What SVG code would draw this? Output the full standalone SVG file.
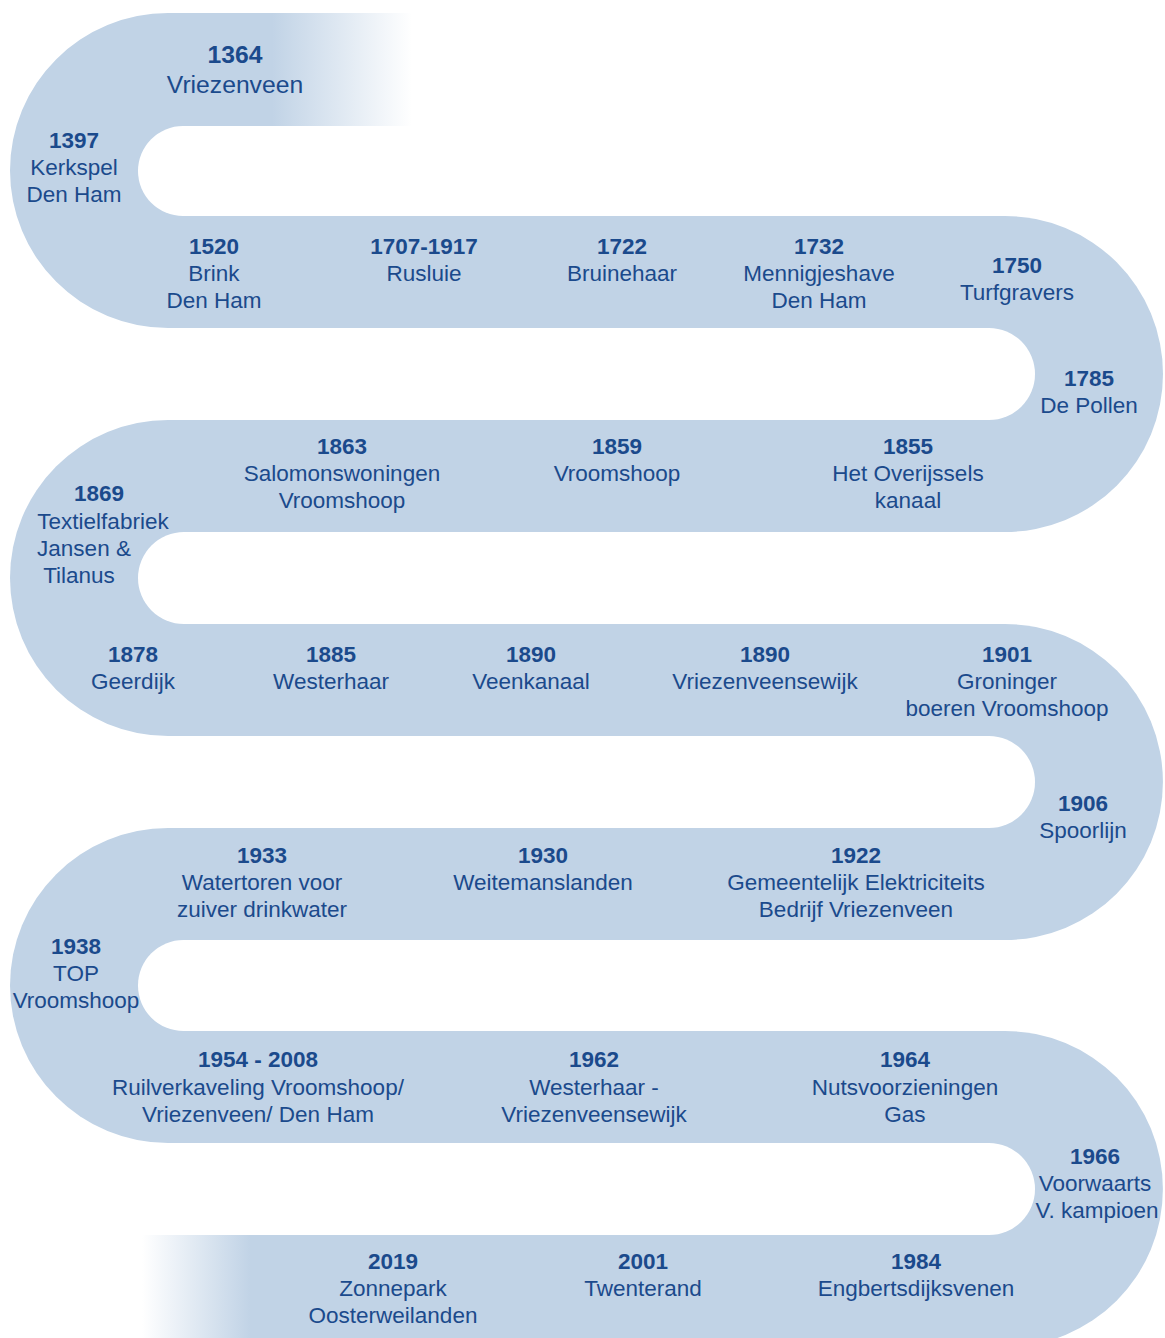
<svg xmlns="http://www.w3.org/2000/svg" width="1165" height="1338" viewBox="0 0 1165 1338">
<defs>
<style>
.b{fill:#c1d3e6}
.h{fill:#ffffff}
text{font-family:"Liberation Sans",Arial,sans-serif;font-size:22.5px;fill:#1b4a8c;text-anchor:middle}
.y{font-weight:bold}
.big{font-size:24.7px}
</style>
<linearGradient id="fadeTop" gradientUnits="userSpaceOnUse" x1="272" y1="0" x2="412" y2="0">
<stop offset="0" stop-color="#c1d3e6" stop-opacity="1"/>
<stop offset="1" stop-color="#c1d3e6" stop-opacity="0"/>
</linearGradient>
<linearGradient id="fadeBot" gradientUnits="userSpaceOnUse" x1="142" y1="0" x2="250" y2="0">
<stop offset="0" stop-color="#c1d3e6" stop-opacity="0"/>
<stop offset="1" stop-color="#c1d3e6" stop-opacity="1"/>
</linearGradient>
</defs>
<rect x="0" y="0" width="1165" height="1338" fill="#ffffff"/>
<g id="band">
<path class="b" d="M262,13 H168 A158,157.5 0 0 0 168,328 H262 Z"/>
<rect x="260" y="13" width="157" height="113" fill="url(#fadeTop)"/>
<rect class="b" x="260" y="216" width="670" height="112"/>
<path class="b" d="M920,216 H1005 A158,158 0 0 1 1005,532 H920 Z"/>
<rect class="b" x="260" y="420" width="670" height="112"/>
<path class="b" d="M262,420 H168 A158,158 0 0 0 168,736 H262 Z"/>
<rect class="b" x="260" y="624" width="670" height="112"/>
<path class="b" d="M920,624 H1005 A158,158 0 0 1 1005,940 H920 Z"/>
<rect class="b" x="260" y="828" width="670" height="112"/>
<path class="b" d="M262,828 H168 A158,157.5 0 0 0 168,1143 H262 Z"/>
<rect class="b" x="260" y="1031" width="670" height="112"/>
<path class="b" d="M920,1031 H1005 A158,158 0 0 1 1005,1347 H920 Z"/>
<rect x="140" y="1235" width="790" height="112" fill="url(#fadeBot)"/>
<path class="h" d="M1165,126 H183 A45,45 0 0 0 183,216 H1165 Z"/>
<path class="h" d="M0,328 H989 A46,46 0 0 1 989,420 H0 Z"/>
<path class="h" d="M1165,532 H184 A46,46 0 0 0 184,624 H1165 Z"/>
<path class="h" d="M0,736 H989 A46,46 0 0 1 989,828 H0 Z"/>
<path class="h" d="M1165,940 H183.5 A45.5,45.5 0 0 0 183.5,1031 H1165 Z"/>
<path class="h" d="M0,1143 H989 A46,46 0 0 1 989,1235 H0 Z"/>
</g>
<g id="n1364"><text class="y big" x="235" y="63">1364</text><text class="big" x="235" y="93">Vriezenveen</text></g>
<g id="n1397"><text class="y" x="74" y="148">1397</text><text x="74" y="175">Kerkspel</text><text x="74" y="202">Den Ham</text></g>
<g id="n1520"><text class="y" x="214" y="254">1520</text><text x="214" y="281">Brink</text><text x="214" y="308">Den Ham</text></g>
<g id="n1707"><text class="y" x="424" y="254">1707-1917</text><text x="424" y="281">Rusluie</text></g>
<g id="n1722"><text class="y" x="622" y="254">1722</text><text x="622" y="281">Bruinehaar</text></g>
<g id="n1732"><text class="y" x="819" y="254">1732</text><text x="819" y="281">Mennigjeshave</text><text x="819" y="308">Den Ham</text></g>
<g id="n1750"><text class="y" x="1017" y="273">1750</text><text x="1017" y="300">Turfgravers</text></g>
<g id="n1785"><text class="y" x="1089" y="386">1785</text><text x="1089" y="413">De Pollen</text></g>
<g id="n1863"><text class="y" x="342" y="454">1863</text><text x="342" y="481">Salomonswoningen</text><text x="342" y="508">Vroomshoop</text></g>
<g id="n1859"><text class="y" x="617" y="454">1859</text><text x="617" y="481">Vroomshoop</text></g>
<g id="n1855"><text class="y" x="908" y="454">1855</text><text x="908" y="481">Het Overijssels</text><text x="908" y="508">kanaal</text></g>
<g id="n1869"><text class="y" x="99" y="501">1869</text><text x="103" y="529">Textielfabriek</text><text x="84" y="556">Jansen &amp;</text><text x="79" y="583">Tilanus</text></g>
<g id="n1878"><text class="y" x="133" y="662">1878</text><text x="133" y="689">Geerdijk</text></g>
<g id="n1885"><text class="y" x="331" y="662">1885</text><text x="331" y="689">Westerhaar</text></g>
<g id="n1890a"><text class="y" x="531" y="662">1890</text><text x="531" y="689">Veenkanaal</text></g>
<g id="n1890b"><text class="y" x="765" y="662">1890</text><text x="765" y="689">Vriezenveensewijk</text></g>
<g id="n1901"><text class="y" x="1007" y="662">1901</text><text x="1007" y="689">Groninger</text><text x="1007" y="716">boeren Vroomshoop</text></g>
<g id="n1906"><text class="y" x="1083" y="811">1906</text><text x="1083" y="838">Spoorlijn</text></g>
<g id="n1933"><text class="y" x="262" y="863">1933</text><text x="262" y="890">Watertoren voor</text><text x="262" y="917">zuiver drinkwater</text></g>
<g id="n1930"><text class="y" x="543" y="863">1930</text><text x="543" y="890">Weitemanslanden</text></g>
<g id="n1922"><text class="y" x="856" y="863">1922</text><text x="856" y="890">Gemeentelijk Elektriciteits</text><text x="856" y="917">Bedrijf Vriezenveen</text></g>
<g id="n1938"><text class="y" x="76" y="954">1938</text><text x="76" y="981">TOP</text><text x="76" y="1008">Vroomshoop</text></g>
<g id="n1954"><text class="y" x="258" y="1067">1954 - 2008</text><text x="258" y="1095">Ruilverkaveling Vroomshoop/</text><text x="258" y="1122">Vriezenveen/ Den Ham</text></g>
<g id="n1962"><text class="y" x="594" y="1067">1962</text><text x="594" y="1095">Westerhaar -</text><text x="594" y="1122">Vriezenveensewijk</text></g>
<g id="n1964"><text class="y" x="905" y="1067">1964</text><text x="905" y="1095">Nutsvoorzieningen</text><text x="905" y="1122">Gas</text></g>
<g id="n1966"><text class="y" x="1095" y="1164">1966</text><text x="1095" y="1191">Voorwaarts</text><text x="1097" y="1218">V. kampioen</text></g>
<g id="n2019"><text class="y" x="393" y="1269">2019</text><text x="393" y="1296">Zonnepark</text><text x="393" y="1323">Oosterweilanden</text></g>
<g id="n2001"><text class="y" x="643" y="1269">2001</text><text x="643" y="1296">Twenterand</text></g>
<g id="n1984"><text class="y" x="916" y="1269">1984</text><text x="916" y="1296">Engbertsdijksvenen</text></g>
</svg>
